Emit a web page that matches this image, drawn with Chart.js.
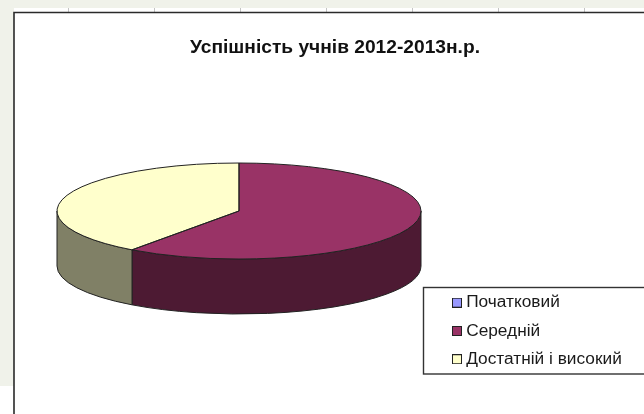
<!DOCTYPE html>
<html>
<head>
<meta charset="utf-8">
<style>
  html, body { margin: 0; padding: 0; background: #fff; }
  canvas { display: block; }
</style>
<script src="https://cdn.jsdelivr.net/npm/chart.js@4"></script>
</head>
<body>
<canvas id="pieChart" width="644" height="414"></canvas>
<script>
var categories = ["Початковий", "Середній", "Достатній і високий"];
var values = [0, 60, 40];
var topColors = ["#9999ff", "#993366", "#ffffcc"];
var sideColors = ["#4d4d80", "#4d1a33", "#808066"];
var titleText = "Успішність учнів 2012-2013н.р.";

// the flattened pie on the page
var pie = { x: 239, y: 211, rx: 182, ry: 48, depth: 55 };
var outline = "#222";

var sheetFrame = {
  id: "sheetFrame",
  beforeDraw: function (chart) {
    var ctx = chart.ctx;
    ctx.save();
    ctx.fillStyle = "#f0f2ea";
    ctx.fillRect(0, 0, 644, 8);
    ctx.fillRect(0, 0, 14, 386);
    ctx.strokeStyle = "#c4c4c4";
    ctx.lineWidth = 1;
    [68, 154, 240, 326, 412, 498, 584].forEach(function (x) {
      ctx.beginPath();
      ctx.moveTo(x + 0.5, 8);
      ctx.lineTo(x + 0.5, 12);
      ctx.stroke();
    });
    ctx.strokeStyle = "#2a2a2a";
    ctx.lineWidth = 1.6;
    ctx.beginPath();
    ctx.moveTo(14, 414);
    ctx.lineTo(14, 12.5);
    ctx.lineTo(644, 12.5);
    ctx.stroke();
    // legend box
    ctx.strokeStyle = "#333";
    ctx.lineWidth = 1.4;
    ctx.strokeRect(423.5, 287.5, 240, 86.5);
    ctx.restore();
  },
  afterLayout: function (chart) {
    var legend = chart.legend;
    var w = legend.right - legend.left;
    var h = legend.bottom - legend.top;
    legend.left = 445.5;
    legend.right = legend.left + w;
    legend.top = 283;
    legend.bottom = legend.top + h;
  }
};

function rimPath(ctx, a, b) {
  ctx.beginPath();
  ctx.ellipse(pie.x, pie.y, pie.rx, pie.ry, 0, a, b);
  ctx.ellipse(pie.x, pie.y + pie.depth, pie.rx, pie.ry, 0, b, a, true);
  ctx.closePath();
}

var flatPie = {
  id: "flatPie",
  beforeDatasetsDraw: function (chart) {
    var ctx = chart.ctx;
    var arcs = chart.getDatasetMeta(0).data;
    ctx.save();
    arcs.forEach(function (arc, i) {
      if (arc.endAngle === arc.startAngle) return;
      // only the front half of the rim can be seen
      var a = Math.max(arc.startAngle, 0);
      var b = Math.min(arc.endAngle, Math.PI);
      if (b <= a) return;
      rimPath(ctx, a, b);
      ctx.fillStyle = sideColors[i];
      ctx.fill();
      ctx.strokeStyle = outline;
      ctx.lineWidth = 1;
      ctx.stroke();
    });
    ctx.restore();

    ctx.save();
    var first = arcs[0];
    ctx.translate(pie.x, pie.y);
    ctx.scale(pie.rx / first.outerRadius, pie.ry / first.outerRadius);
    ctx.translate(-first.x, -first.y);
  },
  afterDatasetsDraw: function (chart) {
    var ctx = chart.ctx;
    var arcs = chart.getDatasetMeta(0).data;
    ctx.restore();
    ctx.save();
    ctx.strokeStyle = outline;
    ctx.lineWidth = 1;
    arcs.forEach(function (arc) {
      if (arc.endAngle === arc.startAngle) return;
      ctx.beginPath();
      ctx.moveTo(pie.x, pie.y);
      ctx.ellipse(pie.x, pie.y, pie.rx, pie.ry, 0, arc.startAngle, arc.endAngle);
      ctx.closePath();
      ctx.stroke();
    });
    ctx.restore();
  }
};

// legend swatch, small canvas so it can sit close to the text
function swatch(color) {
  var c = document.createElement("canvas");
  c.width = 10;
  c.height = 10;
  var g = c.getContext("2d");
  g.fillStyle = color;
  g.fillRect(0, 0, 10, 10);
  g.strokeStyle = outline;
  g.strokeRect(0.5, 0.5, 9, 9);
  return c;
}

new Chart(document.getElementById("pieChart").getContext("2d"), {
  type: "pie",
  plugins: [sheetFrame, flatPie],
  data: {
    labels: categories,
    datasets: [{
      data: values,
      backgroundColor: topColors,
      borderWidth: 0,
      clip: false
    }]
  },
  options: {
    responsive: false,
    animation: false,
    layout: { padding: { left: 26 } },
    plugins: {
      tooltip: { enabled: false },
      title: {
        display: true,
        text: titleText,
        color: "#111",
        font: { family: "'Liberation Sans', Arial, sans-serif", size: 19.2, weight: "bold" },
        padding: { top: 36, bottom: 0 }
      },
      legend: {
        position: "right",
        align: "start",
        labels: {
          color: "#1a1a1a",
          font: { family: "'Liberation Sans', Arial, sans-serif", size: 17.3 },
          usePointStyle: true,
          pointStyleWidth: 1,
          padding: 11,
          generateLabels: function (chart) {
            return Chart.overrides.pie.plugins.legend.labels.generateLabels(chart).map(function (item, i) {
              item.pointStyle = swatch(topColors[i]);
              return item;
            });
          }
        }
      }
    }
  }
});
</script>
</body>
</html>
